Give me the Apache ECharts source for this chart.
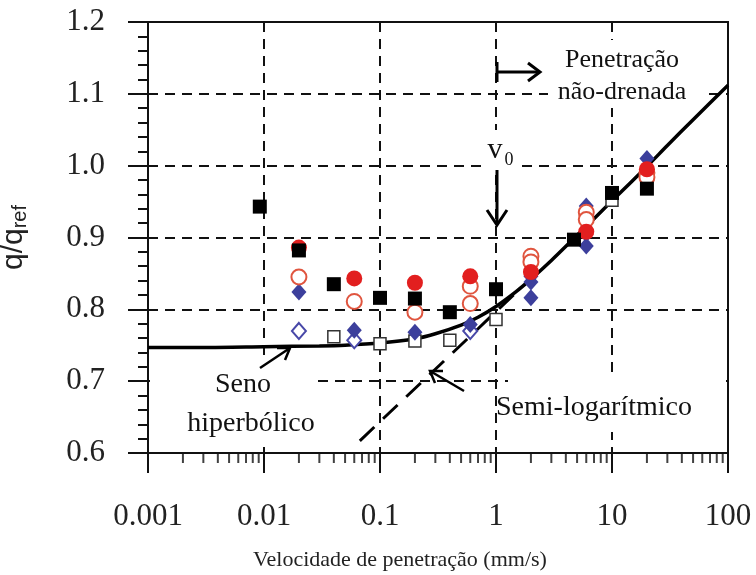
<!DOCTYPE html>
<html><head><meta charset="utf-8">
<script src="https://cdn.jsdelivr.net/npm/echarts@6/dist/echarts.min.js"></script>
<style>html,body{margin:0;padding:0;background:#fff}#c{width:756px;height:575px}</style>
</head><body><div id="c"></div>
<script>
// ---- data ----
const xTickValues = [0.001, 0.01, 0.1, 1, 10, 100];
const yTickValues = [0.6, 0.7, 0.8, 0.9, 1.0, 1.1, 1.2];
const minorMultipliers = [2, 3, 4, 5, 6, 7, 8, 9];
const decades = [0.001, 0.01, 0.1, 1, 10];

const filledSquares = [[0.0092,0.943],[0.02,0.882],[0.04,0.835],[0.1,0.816],[0.2,0.815],[0.4,0.796],[1,0.828],[4.7,0.897],[10,0.962],[20,0.968]];
const openSquares = [[0.04,0.762],[0.1,0.752],[0.2,0.756],[0.4,0.757],[1,0.786],[10,0.952]];
const filledCircles = [[0.02,0.886],[0.06,0.843],[0.2,0.837],[0.6,0.846],[2,0.852],[6,0.908],[20,0.995]];
const openCircles = [[0.02,0.845],[0.06,0.811],[0.2,0.796],[0.6,0.832],[0.6,0.808],[2,0.874],[2,0.866],[6,0.935],[6,0.925],[20,0.99],[20,0.984]];
const filledDiamonds = [[0.02,0.824],[0.06,0.771],[0.2,0.768],[0.6,0.779],[2,0.846],[2,0.838],[2,0.816],[6,0.944],[6,0.905],[6,0.888],[20,1.01]];
const openDiamonds = [[0.02,0.770],[0.06,0.757],[0.6,0.770]];

const sinhCurve = [[0.001,0.747],[0.003,0.747],[0.01,0.748],[0.03,0.749],[0.05,0.750],[0.1,0.753],[0.2,0.759],[0.3,0.766],[0.5,0.778],[0.7,0.789],[1,0.804],[1.5,0.825],[2,0.842],[3,0.868],[5,0.903],[7,0.926],[10,0.951],[20,0.999],[30,1.028],[50,1.064],[100,1.112]];
const semiLogLine = [[0.067,0.617],[0.7,0.773],[1.5,0.824]];

const xTitle = 'Velocidade de penetração (mm/s)';

// minor tick positions on the log axis
const minorX = [];
decades.forEach(d => minorMultipliers.forEach(m => minorX.push([+(d*m).toPrecision(2), 0.6])));

const serif = 'Liberation Serif';
const ink = '#111';

function marker(name, data, symbol, size, fill, border, bw, z) {
  return {
    name, type: 'scatter', data, symbol, symbolSize: size, z: z || 3,
    itemStyle: { color: fill, borderColor: border, borderWidth: bw, opacity: 1 },
    silent: true
  };
}

const chart = echarts.init(document.getElementById('c'), null, { renderer: 'canvas' });
chart.setOption({
  animation: false,
  backgroundColor: '#fff',
  grid: { left: 148, right: 28, top: 22, bottom: 122, show: true, borderColor: ink, borderWidth: 2,
    backgroundColor: 'transparent', containLabel: false, outerBoundsMode: 'none' },
  xAxis: {
    type: 'log', logBase: 10, min: xTickValues[0], max: xTickValues[xTickValues.length-1],
    name: xTitle, nameLocation: 'middle', nameGap: 96,
    nameTextStyle: { fontFamily: serif, fontSize: 22, color: '#222', padding: [0, 76, 0, 0] },
    axisLine: { show: true, lineStyle: { color: ink, width: 2 } },
    axisTick: { show: true, length: 20, lineStyle: { color: ink, width: 2 } },
    axisLabel: { fontFamily: serif, fontSize: 31, color: '#222', margin: 48,
      formatter: v => String(+(+v).toPrecision(1)) },
    splitLine: { show: true, lineStyle: { color: ink, width: 2, type: [10, 7] } }
  },
  yAxis: {
    type: 'value', min: yTickValues[0], max: yTickValues[yTickValues.length-1], interval: 0.1,
    name: '{q|q/q}{s|ref}', nameLocation: 'middle', nameGap: 118, nameRotate: 90,
    nameTextStyle: { rich: {
      q: { fontFamily: 'Liberation Sans', fontSize: 30, color: '#222' },
      s: { fontFamily: 'Liberation Sans', fontSize: 20, color: '#222', verticalAlign: 'bottom', padding: [12, 0, 0, 0] }
    } },
    axisLine: { show: true, lineStyle: { color: ink, width: 2 } },
    axisTick: { show: true, length: 20, lineStyle: { color: ink, width: 2 } },
    minorTick: { show: true, splitNumber: 5, length: 10, lineStyle: { color: ink, width: 2 } },
    axisLabel: { fontFamily: serif, fontSize: 31, color: '#222', margin: 43, formatter: v => v.toFixed(1) },
    splitLine: { show: true, lineStyle: { color: ink, width: 2, type: [10, 7] } }
  },
  series: [
    { name: 'minor ticks', type: 'scatter', data: minorX, symbol: 'rect', symbolSize: [2, 10], symbolOffset: [0, 5],
      clip: false, silent: true, itemStyle: { color: ink }, z: 5 },
    { name: 'semi-log', type: 'line', data: semiLogLine, showSymbol: false, symbol: 'none', silent: true, z: 2,
      lineStyle: { color: '#000', width: 3, type: [20, 12] } },
    { name: 'sinh', type: 'line', data: sinhCurve, showSymbol: false, symbol: 'none', smooth: 0.3, silent: true, z: 2,
      lineStyle: { color: '#000', width: 3.5 } },
    marker('openSquares', openSquares, 'rect', 12, '#fff', '#333', 1.5, 3),
    marker('openDiamonds', openDiamonds, 'diamond', [14, 16], '#fff', '#4848a8', 2, 3),
    marker('filledDiamonds', filledDiamonds, 'diamond', [15, 17], '#3c3f9c', '#3c3f9c', 0, 4),
    marker('openCircles', openCircles, 'circle', 15, '#fff', '#e0553f', 2, 4),
    marker('filledCircles', filledCircles, 'circle', 16, '#e21f1f', '#e21f1f', 0, 4),
    marker('filledSquares', filledSquares, 'rect', 14, '#000', '#000', 0, 5)
  ],
  graphic: [
    // white label backgrounds hiding grid lines
    { type: 'rect', z: 1, shape: { x: 548, y: 40, width: 158, height: 68 }, style: { fill: '#fff' } },
    { type: 'rect', z: 1, shape: { x: 482, y: 130, width: 36, height: 40 }, style: { fill: '#fff' } },
    { type: 'rect', z: 1, shape: { x: 150, y: 358, width: 168, height: 84 }, style: { fill: '#fff' } },
    { type: 'rect', z: 1, shape: { x: 508, y: 372, width: 218, height: 60 }, style: { fill: '#fff' } },
    // texts
    { type: 'text', z: 10, x: 622, y: 60, style: { text: 'Penetração', font: '26px "Liberation Serif"', fill: '#111', align: 'center', verticalAlign: 'middle' } },
    { type: 'text', z: 10, x: 622, y: 92, style: { text: 'não-drenada', font: '26px "Liberation Serif"', fill: '#111', align: 'center', verticalAlign: 'middle' } },
    { type: 'text', z: 10, x: 495, y: 150, style: { text: 'v', font: '30px "Liberation Serif"', fill: '#111', align: 'center', verticalAlign: 'middle' } },
    { type: 'text', z: 10, x: 509, y: 160, style: { text: '0', font: '18px "Liberation Serif"', fill: '#111', align: 'center', verticalAlign: 'middle' } },
    { type: 'text', z: 10, x: 243, y: 385, style: { text: 'Seno', font: '28px "Liberation Serif"', fill: '#111', align: 'center', verticalAlign: 'middle' } },
    { type: 'text', z: 10, x: 251, y: 424, style: { text: 'hiperbólico', font: '28px "Liberation Serif"', fill: '#111', align: 'center', verticalAlign: 'middle' } },
    { type: 'text', z: 10, x: 594, y: 408, style: { text: 'Semi-logarítmico', font: '28px "Liberation Serif"', fill: '#111', align: 'center', verticalAlign: 'middle' } },
    // arrows
    { type: 'line', z: 10, shape: { x1: 497, y1: 62, x2: 497, y2: 82 }, style: { stroke: '#000', lineWidth: 3 } },
    { type: 'line', z: 10, shape: { x1: 498, y1: 72, x2: 538, y2: 72 }, style: { stroke: '#000', lineWidth: 3 } },
    { type: 'polyline', z: 10, shape: { points: [[528, 63], [540, 72], [528, 81]] }, style: { stroke: '#000', lineWidth: 3, fill: null } },
    { type: 'line', z: 10, shape: { x1: 497, y1: 170, x2: 497, y2: 224 }, style: { stroke: '#000', lineWidth: 3 } },
    { type: 'polyline', z: 10, shape: { points: [[487, 210], [497, 225], [507, 210]] }, style: { stroke: '#000', lineWidth: 3, fill: null } },
    { type: 'line', z: 10, shape: { x1: 260, y1: 368, x2: 290, y2: 348 }, style: { stroke: '#000', lineWidth: 2.5 } },
    { type: 'polyline', z: 10, shape: { points: [[277, 348], [290, 348], [285, 360]] }, style: { stroke: '#000', lineWidth: 2.5, fill: null } },
    { type: 'line', z: 10, shape: { x1: 464, y1: 391, x2: 430, y2: 371 }, style: { stroke: '#000', lineWidth: 2.5 } },
    { type: 'polyline', z: 10, shape: { points: [[435, 383], [430, 371], [443, 371]] }, style: { stroke: '#000', lineWidth: 2.5, fill: null } }
  ]
});
</script>
</body></html>
